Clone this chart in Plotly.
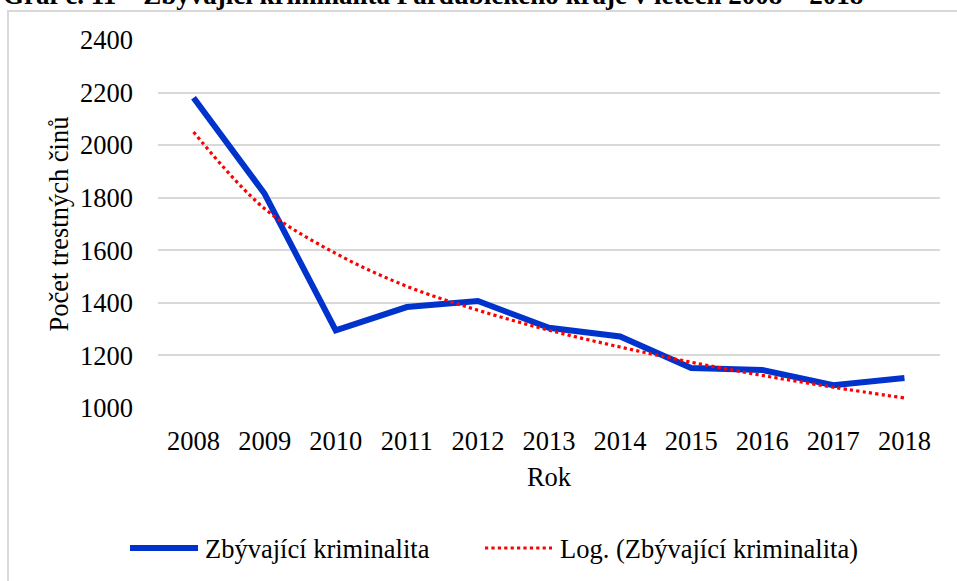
import plotly.graph_objects as go

# values
years = ["2008", "2009", "2010", "2011", "2012", "2013", "2014", "2015", "2016", "2017", "2018"]
crimes = [2180, 1815, 1295, 1384, 1407, 1305, 1272, 1152, 1145, 1087, 1114]
log_trend = [2050, 1758, 1588, 1463, 1372, 1296, 1232, 1174, 1124, 1079, 1038]
y_ticks = [1000, 1200, 1400, 1600, 1800, 2000, 2200, 2400]

title = "Graf č. 11 – Zbývající kriminalita Pardubického kraje v letech 2008 – 2018"
name_main = "Zbývající kriminalita"
name_trend = "Log. (Zbývající kriminalita)"

W, H = 957, 581
L, R, T, B = 158, 17, 40, 173          # plot area 158..940 x 40..408
FONT = "Liberation Serif, Times New Roman, serif"
FS = 26.5
BLUE = "#0033cc"
RED = "#ff0000"
GRID = "#d9d9d9"


def px_x(px):
    return (px - L) / (W - L - R)


def px_y(py):
    return (H - B - py) / (H - T - B)


fig = go.Figure()
fig.add_trace(go.Scatter(
    x=years, y=crimes, mode="lines", name=name_main,
    line=dict(color=BLUE, width=6), showlegend=False))
fig.add_trace(go.Scatter(
    x=years, y=log_trend, mode="lines", name=name_trend,
    line=dict(color=RED, width=3.2, dash="dot", shape="spline"), showlegend=False))

fig.update_xaxes(
    type="category", range=[-0.5, 10.5], showgrid=False, zeroline=False,
    showline=False, ticks="", ticklabelstandoff=14,
    tickfont=dict(family=FONT, size=FS, color="#000"),
    title=dict(text="Rok", font=dict(family=FONT, size=FS, color="#000"), standoff=12))
fig.update_yaxes(
    range=[1000, 2400], tickvals=y_ticks, showgrid=True, gridcolor=GRID, gridwidth=2,
    zeroline=False, showline=False, ticks="", ticklabelstandoff=24,
    tickfont=dict(family=FONT, size=FS, color="#000"),
    title=dict(text="Počet trestných činů", font=dict(family=FONT, size=FS, color="#000"),
               standoff=3))

shapes = [
    # chart border (cropped at the right and bottom)
    dict(type="rect", xref="paper", yref="paper",
         x0=px_x(8), x1=px_x(970), y0=px_y(600), y1=px_y(11),
         line=dict(color=GRID, width=2), fillcolor="rgba(0,0,0,0)", layer="below"),
    # legend keys
    dict(type="line", xref="paper", yref="paper",
         x0=px_x(130), x1=px_x(198), y0=px_y(548), y1=px_y(548),
         line=dict(color=BLUE, width=6)),
    dict(type="line", xref="paper", yref="paper",
         x0=px_x(485), x1=px_x(552), y0=px_y(548), y1=px_y(548),
         line=dict(color=RED, width=3.2, dash="dot")),
]

annotations = [
    dict(text=f"<b>{title}</b>", xref="paper", yref="paper", x=px_x(1), y=px_y(12),
         xanchor="left", yanchor="bottom", showarrow=False,
         font=dict(family=FONT, size=27, color="#000")),
    dict(text=name_main, xref="paper", yref="paper", x=px_x(203), y=px_y(549),
         xanchor="left", yanchor="middle", showarrow=False,
         font=dict(family=FONT, size=FS, color="#000")),
    dict(text=name_trend, xref="paper", yref="paper", x=px_x(558), y=px_y(549),
         xanchor="left", yanchor="middle", showarrow=False,
         font=dict(family=FONT, size=FS, color="#000")),
]

fig.update_layout(
    width=W, height=H,
    margin=dict(l=L, r=R, t=T, b=B),
    plot_bgcolor="white", paper_bgcolor="white",
    showlegend=False,
    shapes=shapes, annotations=annotations,
)

# page margin off so the figure sits at the window's top-left corner
fig.write_html("out.html", config={"displayModeBar": False},
               post_script="document.body.style.margin = '0';")
